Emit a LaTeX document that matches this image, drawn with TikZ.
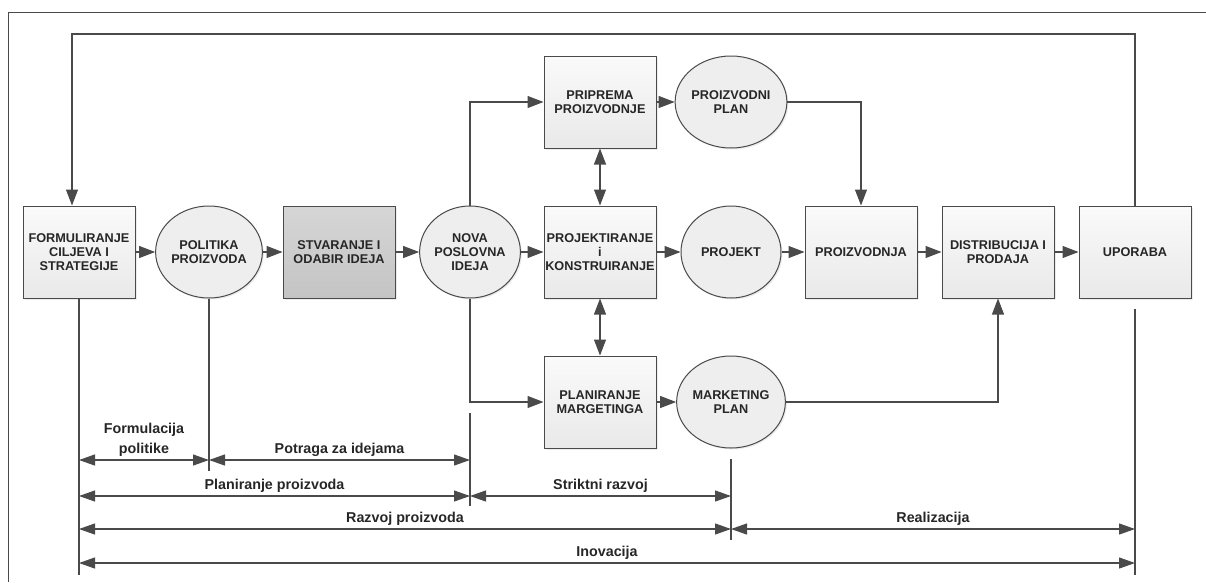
\documentclass[tikz,border=0pt]{standalone}
\usepackage{fontspec}
\setmainfont{Liberation Sans}
\usetikzlibrary{arrows.meta,shapes.geometric,shadows}
\definecolor{lin}{HTML}{4A4A4A}
\definecolor{boxtop}{HTML}{FAFAFA}
\definecolor{boxbot}{HTML}{E9E9E9}
\definecolor{darktop}{HTML}{D6D6D6}
\definecolor{darkbot}{HTML}{C4C4C4}
\definecolor{discfill}{HTML}{EEEEEE}
\begin{document}
\begin{tikzpicture}[x=1pt,y=-1pt,
  txt/.style={font=\bfseries\fontsize{12.7}{14}\selectfont,align=center,inner sep=0pt,text=black!85},
  shd/.style={drop shadow={shadow xshift=1.5pt,shadow yshift=-1.5pt,opacity=0.15}},
  box/.style={txt,shd,draw=lin,line width=1pt,minimum width=112pt,minimum height=92pt,top color=boxtop,bottom color=boxbot},
  darkbox/.style={box,top color=darktop,bottom color=darkbot},
  disc/.style={txt,shd,ellipse,draw=lin,line width=1pt,minimum width=100pt,minimum height=92pt,fill=discfill},
  arr/.style={draw=lin,line width=1.1pt,-{Triangle[length=16pt,width=12pt]}},
  dbl/.style={draw=lin,line width=1.1pt,{Triangle[length=16pt,width=12pt]}-{Triangle[length=16pt,width=12pt]}},
  dim/.style={draw=lin,line width=1.1pt,{Triangle[length=16pt,width=11pt]}-{Triangle[length=16pt,width=11pt]}},
  vline/.style={draw=lin,line width=1.1pt},
  lbl/.style={font=\bfseries\fontsize{14.3}{20}\selectfont,align=center,above=3pt,inner sep=0pt,text=black!85}]
\useasboundingbox (0,0) rectangle (1206,582);
\draw[lin,line width=1pt] (8,582) -- (8,12) -- (1206,12);
% boxes and circles
\foreach \n/\x/\y/\t in {form/79/252/{FORMULIRANJE\\CILJEVA I\\STRATEGIJE},prip/600/102/{PRIPREMA\\PROIZVODNJE},
  proj/600/252/{PROJEKTIRANJE\\i\\KONSTRUIRANJE},plan/600/402/{PLANIRANJE\\MARGETINGA},
  proizv/861/252/{PROIZVODNJA},dist/998/252/{DISTRIBUCIJA I\\PRODAJA},upo/1135/252/{UPORABA}}
  \node[box] (\n) at (\x,\y) {\t};
\node[darkbox] (stv) at (339,252) {STVARANJE I\\ODABIR IDEJA};
\foreach \n/\x/\y/\t in {pol/209/252/{POLITIKA\\PROIZVODA},nova/470/252/{NOVA\\POSLOVNA\\IDEJA},
  pplan/731/102/{PROIZVODNI\\PLAN},projekt/731/252/{PROJEKT},mplan/731/402/{MARKETING\\PLAN}}
  \node[disc] (\n) at (\x,\y) {\t};
% flow
\foreach \a/\b in {form/pol,pol/stv,stv/nova,nova/proj,proj/projekt,projekt/proizv,proizv/dist,dist/upo,prip/pplan,plan/mplan}
  \draw[arr] (\a) -- (\b);
\draw[arr] (nova.north) |- (prip.west);
\draw[arr] (nova.south) |- (plan.west);
\draw[arr] (pplan.east) -| (proizv.north);
\draw[arr] (mplan.east) -| (dist.south);
\draw[dbl] (prip) -- (proj);
\draw[dbl] (plan) -- (proj);
\coordinate (fbk) at (0,34);
\draw[arr] (upo.north) -- (upo.north |- fbk) -| ([xshift=-7pt]form.north);
% phases
\coordinate (lA) at (0,460); \coordinate (lB) at (0,496); \coordinate (lC) at (0,529);
\coordinate (lD) at (0,563); \coordinate (lE) at (0,575); \coordinate (lP) at (0,471);
\coordinate (t1) at (470,413); \coordinate (t2) at (470,506);
\coordinate (t3) at (731,459); \coordinate (t4) at (731,540);
\coordinate (t5) at (1135,309); \coordinate (t6) at (1135,575);
\draw[vline] (form.south) -- (form.south |- lE);
\draw[vline] (pol.south) -- (pol.south |- lP);
\draw[vline] (t1) -- (t2);
\draw[vline] (t3) -- (t4);
\draw[vline] (t5) -- (t6);
\draw[dim] (form.south |- lA) -- node[lbl]{Formulacija\\politike} (pol.south |- lA);
\draw[dim] (pol.south |- lA) -- node[lbl]{Potraga za idejama} (t1 |- lA);
\draw[dim] (form.south |- lB) -- node[lbl]{Planiranje proizvoda} (t1 |- lB);
\draw[dim] (t1 |- lB) -- node[lbl]{Striktni razvoj} (t3 |- lB);
\draw[dim] (form.south |- lC) -- node[lbl]{Razvoj proizvoda} (t3 |- lC);
\draw[dim] (t3 |- lC) -- node[lbl]{Realizacija} (t5 |- lC);
\draw[dim] (form.south |- lD) -- node[lbl]{Inovacija} (t5 |- lD);
\end{tikzpicture}
\end{document}
